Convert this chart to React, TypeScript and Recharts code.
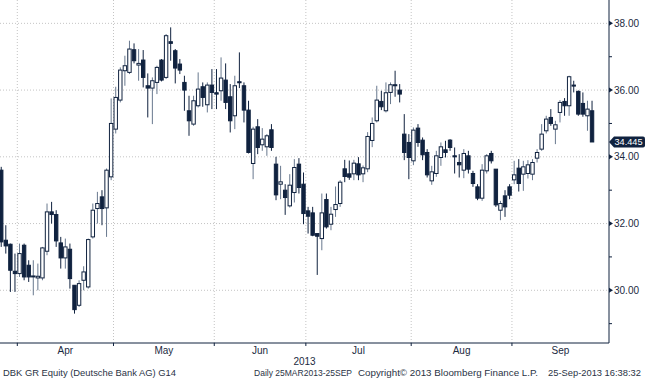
import { ComposedChart, Bar, XAxis, YAxis, CartesianGrid } from 'recharts';

// Deutsche Bank daily candles, 25 Mar 2013 - 25 Sep 2013 (130 sessions)
const opens = [
  33.6, 31.5, 31.38, 30.57, 30.5, 31.35, 30.75, 30.4, 30.37, 30.37,
  31.17, 32.35, 32.27, 31.42, 30.97, 31.23, 30.15, 29.55, 30.3, 30.1,
  31.6, 32.45, 32.8, 32.47, 33.4, 34.83, 35.7, 36.58, 36.53, 37.21,
  36.75, 36.9, 36.13, 36.06, 36.23, 36.9, 36.38, 37.45, 37.18, 36.78,
  36.23, 35.38, 34.98, 35.53, 36.1, 35.56, 36.15, 35.92, 35.98, 36.3,
  35.8, 35.23, 36.25, 36.13, 35.4, 33.8, 34.9, 34.36, 34.3, 34.81,
  33.78, 33.18, 33.0, 32.53, 32.93, 33.78, 33.18, 32.38, 32.32, 31.7,
  31.55, 32.72, 31.98, 32.42, 32.6, 33.64, 33.49, 33.49, 33.79, 33.49,
  33.64, 34.49, 35.08, 35.66, 35.38, 35.93, 36.16, 36.0, 34.68, 34.43,
  33.88, 34.86, 34.5, 34.13, 33.28, 33.5, 33.98, 34.21, 34.5, 34.03,
  33.83, 33.6, 34.03, 33.5, 33.1, 32.76, 33.58, 34.1, 33.63, 32.4,
  32.83, 33.1, 33.31, 33.66, 33.48, 33.5, 33.48, 33.96, 34.23, 34.78,
  35.18, 34.83, 35.33, 35.66, 35.53, 36.15, 35.96, 35.6, 35.23, 35.38,
];
const highs = [
  33.7, 31.95, 31.4, 31.1, 31.4, 31.4, 30.9, 30.9, 30.8, 31.3,
  32.6, 32.65, 32.4, 31.6, 31.55, 31.4, 30.15, 30.3, 30.72, 31.55,
  32.6, 32.95, 33.0, 33.65, 35.75, 36.1, 36.68, 37.03, 37.48, 37.4,
  37.23, 37.2, 36.5, 36.38, 36.73, 36.93, 37.68, 37.88, 37.23, 36.93,
  36.43, 35.83, 35.83, 36.53, 36.23, 36.23, 36.63, 36.63, 36.98, 36.8,
  36.18, 36.43, 37.13, 36.23, 35.68, 34.9, 35.13, 34.86, 34.68, 34.98,
  34.0, 33.73, 33.18, 33.48, 33.93, 33.96, 33.53, 32.5, 32.5, 31.7,
  32.9, 32.9, 32.5, 33.11, 33.3, 33.91, 33.89, 33.91, 33.99, 33.74,
  34.74, 35.18, 36.13, 35.98, 36.23, 36.23, 36.58, 36.18, 35.28, 34.68,
  34.88, 34.98, 34.58, 34.23, 33.73, 34.18, 34.43, 34.48, 34.53, 34.28,
  34.08, 34.23, 34.18, 33.58, 33.18, 33.78, 34.08, 34.18, 33.63, 32.68,
  33.0, 33.18, 33.88, 33.93, 33.88, 33.9, 33.93, 34.23, 34.98, 35.23,
  35.43, 35.08, 35.7, 35.76, 36.43, 36.28, 35.99, 35.93, 35.68, 35.68,
];
const lows = [
  31.3, 31.1, 29.95, 29.95, 30.4, 30.3, 30.25, 29.85, 30.0, 30.3,
  31.05, 32.0, 31.3, 30.65, 30.65, 30.05, 29.3, 29.5, 30.0, 30.05,
  31.55, 32.0, 31.95, 31.6, 33.3, 34.7, 35.63, 36.13, 36.48, 36.8,
  36.28, 36.08, 35.18, 34.98, 35.88, 36.26, 36.33, 36.88, 36.2, 36.48,
  35.38, 34.63, 34.93, 35.48, 35.5, 35.33, 35.43, 35.43, 35.68, 35.43,
  34.73, 34.83, 36.06, 35.03, 34.1, 33.33, 34.08, 34.18, 34.03, 34.18,
  32.7, 32.73, 32.26, 32.48, 32.63, 32.9, 31.98, 31.7, 31.62, 30.46,
  31.2, 31.85, 31.8, 32.2, 32.5, 33.24, 33.31, 33.3, 33.3, 33.24,
  33.54, 34.29, 35.03, 35.4, 35.33, 35.58, 35.8, 35.63, 33.9, 33.33,
  33.75, 34.3, 33.9, 33.38, 33.16, 33.4, 33.73, 33.98, 34.18, 33.5,
  33.38, 33.36, 33.5, 33.1, 32.7, 32.68, 33.5, 33.8, 32.5, 32.1,
  32.2, 32.73, 33.18, 32.96, 32.98, 33.35, 33.3, 33.83, 34.18, 34.7,
  34.93, 34.38, 35.03, 35.23, 35.23, 35.93, 35.23, 35.2, 34.78, 34.445,
];
const closes = [
  31.45, 31.33, 30.6, 30.5, 31.1, 30.4, 30.4, 30.43, 30.42, 31.27,
  32.35, 32.27, 31.48, 30.97, 31.3, 30.35, 29.42, 30.2, 30.55, 31.52,
  32.4, 32.6, 32.45, 33.6, 35.0, 35.78, 36.6, 36.73, 37.23, 36.88,
  36.8, 36.38, 36.06, 36.28, 36.68, 36.3, 37.63, 37.4, 36.66, 36.6,
  36.0, 35.08, 35.68, 36.03, 35.78, 36.15, 35.93, 35.88, 36.36, 35.63,
  35.08, 36.13, 36.22, 35.4, 34.13, 34.83, 34.28, 34.53, 34.63, 34.28,
  32.86, 33.25, 32.78, 33.15, 33.68, 33.08, 32.3, 32.22, 31.65, 31.62,
  32.32, 31.9, 32.28, 32.57, 33.24, 33.41, 33.39, 33.81, 33.46, 33.67,
  34.61, 35.0, 35.7, 35.5, 35.92, 36.16, 36.14, 35.88, 34.13, 33.98,
  34.8, 34.43, 34.06, 33.46, 33.55, 34.03, 34.3, 34.13, 34.28, 34.0,
  33.76, 34.1, 33.63, 33.2, 32.76, 33.6, 34.03, 33.88, 32.56, 32.6,
  32.5, 32.85, 33.46, 33.2, 33.7, 33.76, 33.83, 34.13, 34.68, 35.13,
  35.0, 34.96, 35.63, 35.53, 36.4, 36.12, 35.28, 35.28, 35.43, 34.445,
];

// session index where each month begins, and its label
const monthStarts = [4, 25, 47, 67, 90, 112];
const monthLabels = ['Apr', 'May', 'Jun', 'Jul', 'Aug', 'Sep'];
const yearLabel = '2013';
const gridPrices = [30, 32, 34, 36, 38];
const minorPrices = [29, 31, 33, 35, 37];
const lastClose = closes[closes.length - 1];

const xMin = -0.33;
const xMax = 132.64;
const yMin = 28.42;
const yMax = 38.7;

const rows = opens.map((o, i) => ({
  i, open: o, high: highs[i], low: lows[i], close: closes[i],
}));

const boundaries = monthStarts.map((s) => s - 0.55);
const mids = boundaries.map((b, k) => (b + (k < boundaries.length - 1 ? boundaries[k + 1] : xMax)) / 2);
const xTicks = [...boundaries, ...mids];
const yTicks = [...minorPrices, ...gridPrices, lastClose];

const NAVY = '#10223f';
const WICK_UP = '#68788e';
const TEXT = '#1b2a41';
const FONT = '"Liberation Sans", Arial, sans-serif';

function Candle(props: any) {
  const { x, y, width, height, payload } = props;
  if (x == null || y == null || height == null) return null;
  const { open, high, low, close } = payload;
  const yHi = Math.min(y, y + height);
  const yLo = Math.max(y, y + height);
  const k = (yLo - yHi) / (high - low || 1);
  const yOf = (v: number) => yHi + (high - v) * k;
  const cx = x + width / 2;
  const up = close >= open;
  const top = yOf(Math.max(open, close));
  const bh = Math.max(1, yOf(Math.min(open, close)) - top);
  return (
    <g>
      <line x1={cx} x2={cx} y1={yHi} y2={yLo} stroke={up ? WICK_UP : NAVY} strokeWidth={1} />
      <rect x={cx - 1.7} y={top} width={3.4} height={bh} fill={up ? '#fff' : NAVY} stroke={NAVY} strokeWidth={1} />
    </g>
  );
}

function MonthTick(props: any) {
  const { x, y, payload } = props;
  const v = payload.value;
  const b = boundaries.indexOf(v);
  if (b >= 0) return <line x1={x} x2={x} y1={y} y2={y + 3} stroke={NAVY} />;
  const m = mids.indexOf(v);
  return (
    <text x={x} y={y + 10.5} textAnchor="middle" fontSize={10} fontFamily={FONT} fill={TEXT}>
      {monthLabels[m]}
    </text>
  );
}

function PriceTick(props: any) {
  const { x, y, payload } = props;
  const v = payload.value;
  if (v === lastClose) {
    return (
      <g>
        <path
          d={`M${x},${y} L${x + 5},${y - 5.5} H${x + 34} Q${x + 36},${y - 5.5} ${x + 36},${y - 3.5} V${y + 3.5} Q${x + 36},${y + 5.5} ${x + 34},${y + 5.5} H${x + 5} Z`}
          fill={NAVY}
        />
        <text x={x + 5.5} y={y} dy="0.35em" fontSize={9.5} fontFamily={FONT} fill="#fff" textLength={28} lengthAdjust="spacingAndGlyphs">
          {v.toFixed(3)}
        </text>
      </g>
    );
  }
  if (gridPrices.includes(v)) {
    return (
      <g>
        <polygon points={`${x},${y - 2.5} ${x + 4},${y} ${x},${y + 2.5}`} fill={NAVY} />
        <text x={x + 5} y={y} dy="0.35em" fontSize={10} fontFamily={FONT} fill={TEXT}>{v.toFixed(2)}</text>
      </g>
    );
  }
  return <line x1={x} x2={x + 3} y1={y} y2={y} stroke={NAVY} />;
}

function YearLabel(props: any) {
  const vb = props.viewBox;
  if (!vb) return null;
  return (
    <text x={vb.x + vb.width / 2} y={vb.y + 21.5} textAnchor="middle" fontSize={10} fontFamily={FONT} fill={TEXT}>
      {yearLabel}
    </text>
  );
}

export default function App() {
  return (
    <div style={{ position: 'relative', width: 645, height: 380, background: '#fff', overflow: 'hidden' }}>
      <style>{'body{margin:0}'}</style>
      <ComposedChart width={645} height={380} data={rows} margin={{ top: 0, right: 0, bottom: 7, left: 0 }}>
        <CartesianGrid
          stroke="#c4c4c4"
          strokeDasharray="1 2"
          horizontalValues={gridPrices}
          verticalValues={boundaries}
        />
        <XAxis
          dataKey="i"
          type="number"
          scale="linear"
          domain={[xMin, xMax]}
          allowDataOverflow
          ticks={xTicks}
          interval={0}
          tick={<MonthTick />}
          tickLine={false}
          tickSize={0}
          tickMargin={0}
          height={30}
          axisLine={{ stroke: NAVY }}
          label={<YearLabel />}
        />
        <YAxis
          orientation="right"
          width={36}
          type="number"
          domain={[yMin, yMax]}
          allowDataOverflow
          ticks={yTicks}
          interval={0}
          tick={<PriceTick />}
          tickLine={false}
          tickSize={0}
          tickMargin={0}
          axisLine={{ stroke: NAVY }}
        />
        <Bar dataKey={(d: any) => [d.low, d.high]} shape={<Candle />} barSize={4} isAnimationActive={false} />
      </ComposedChart>
      <svg width={645} height={13} style={{ position: 'absolute', left: 0, top: 366 }}>
        <g fontSize={9} fontFamily={FONT} fill="#2a3345">
          <text x={3} y={10} textLength={173} lengthAdjust="spacingAndGlyphs">DBK GR Equity (Deutsche Bank AG) G14</text>
          <text x={254} y={10} textLength={98} lengthAdjust="spacingAndGlyphs">Daily 25MAR2013-25SEP</text>
          <text x={358} y={10} textLength={180} lengthAdjust="spacingAndGlyphs">Copyright© 2013 Bloomberg Finance L.P.</text>
          <text x={548} y={10} textLength={93} lengthAdjust="spacingAndGlyphs">25-Sep-2013 16:38:32</text>
        </g>
      </svg>
    </div>
  );
}
